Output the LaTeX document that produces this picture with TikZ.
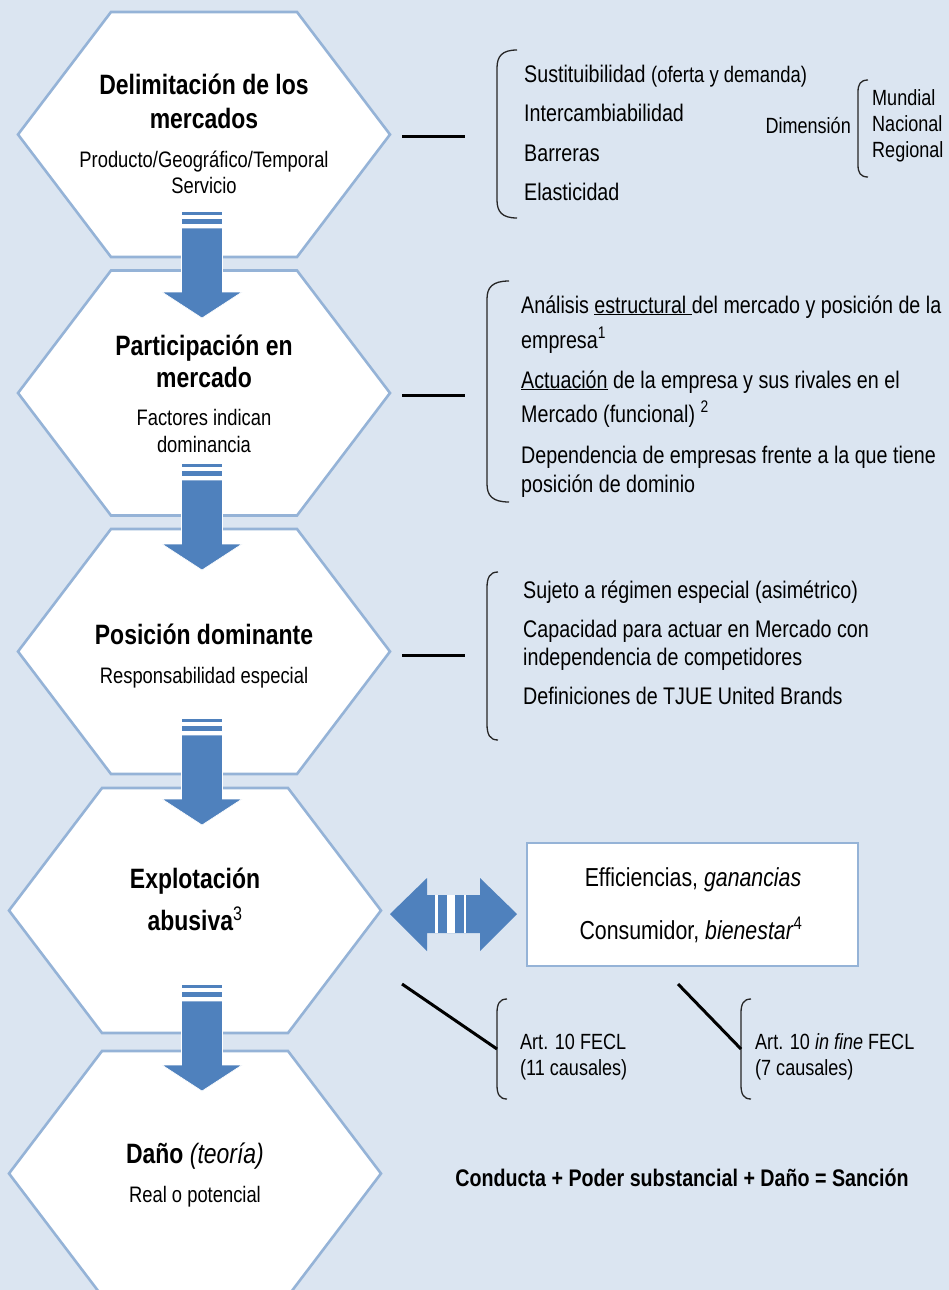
\documentclass[tikz,border=0pt]{standalone}
\usepackage{fontspec}
\setmainfont{Liberation Sans}[FakeStretch=0.82]
\definecolor{bgblue}{HTML}{DBE5F1}
\definecolor{hexline}{HTML}{95B3D7}
\definecolor{arrowblue}{HTML}{4F81BD}

% elongated hexagon: name, centre x, centre y
\newcommand\hexstage[3]{%
  \draw[hexa] (#2-186,#3) -- (#2-93,#3-122.5) -- (#2+93,#3-122.5)
    -- (#2+186,#3) -- (#2+93,#3+122.5) -- (#2-93,#3+122.5) -- cycle;
  \coordinate (#1) at (#2,#3);}

% striped block arrow pointing down: name, centre x, top y
\newcommand\flowstep[3]{%
  \fill[flow] (#2-20.5,#3) rectangle (#2+20.5,#3+4);
  \fill[flow] (#2-20.5,#3+7) rectangle (#2+20.5,#3+13.5);
  \draw[flow] (#2-20.5,#3+17) -- (#2+20.5,#3+17) -- (#2+20.5,#3+81)
    -- (#2+40,#3+81) -- (#2,#3+107) -- (#2-40,#3+81) -- (#2-20.5,#3+81) -- cycle;
  \coordinate (#1) at (#2,#3+107);}

% curly bracket: name, x, top, bottom, curl width, curl height
\newcommand\curlbracket[6]{%
  \draw[brk] (#2+#5,#3) .. controls (#2+0.25*#5,#3) and (#2,#3+0.35*#6) .. (#2,#3+#6)
    -- (#2,#4-#6) .. controls (#2,#4-0.35*#6) and (#2+0.25*#5,#4) .. (#2+#5,#4);
  \coordinate (#1) at (#2,{(#3+#4)/2});}

\tikzset{
  hexa/.style={draw=hexline, line width=2.6pt, fill=white, line join=miter},
  flow/.style={fill=arrowblue, draw=white, line width=0.6pt},
  link/.style={draw=black, line width=3pt},
  brk/.style={draw=black!85, line width=1.3pt},
  ttl/.style={inner sep=0, anchor=base, font=\fontsize{28}{32}\selectfont\bfseries},
  sub/.style={inner sep=0, anchor=base, font=\fontsize{22.4}{26}\selectfont},
  item/.style={inner sep=0, anchor=base west, font=\fontsize{24}{28}\selectfont},
  small/.style={inner sep=0, anchor=base west, font=\fontsize{22}{26}\selectfont},
  boxtext/.style={inner sep=0, anchor=base, font=\fontsize{26}{30}\selectfont},
  box/.style={draw=hexline, line width=1.2pt, fill=white, minimum width=331pt,
    minimum height=123pt, inner sep=0},
}

\begin{document}
\begin{tikzpicture}[x=1pt,y=-1pt]
\useasboundingbox (0,0) rectangle (949,1290);
\clip (0,0) rectangle (949,1290);
\fill[bgblue] (0,0) rectangle (949,1290);

% stages
\hexstage{h1}{204}{134.5}
\hexstage{h2}{204}{393}
\hexstage{h3}{204}{651.5}
\hexstage{h4}{195}{910.5}
\hexstage{h5}{195}{1173.5}

% arrows between the stages
\flowstep{a1}{202}{211}
\flowstep{a2}{202}{463}
\flowstep{a3}{202}{718}
\flowstep{a4}{202}{984}

% stage texts
\node[ttl] (t1a) at (204,95) {Delimitación de los};
\node[ttl] (t1b) at (204,128) {mercados};
\node[sub] (s1a) at (204,167) {Producto/Geográfico/Temporal};
\node[sub] (s1b) at (204,193) {Servicio};

\node[ttl] (t2a) at (204,355) {Participación en};
\node[ttl] (t2b) at (204,387) {mercado};
\node[sub] (s2a) at (204,425) {Factores indican};
\node[sub] (s2b) at (204,452) {dominancia};

\node[ttl] (t3a) at (204,644) {Posición dominante};
\node[sub] (s3a) at (204,683) {Responsabilidad especial};

\node[ttl] (t4a) at (195,888) {Explotación};
\node[ttl] (t4b) at (195,930) {abusiva\textsuperscript{\mdseries 3}};

\node[ttl] (t5a) at (195,1163) {Daño \mdseries\itshape(teoría)};
\node[sub] (s5a) at (195,1202) {Real o potencial};

% links from the stages to their brackets
\coordinate (l1a) at (402,136); \coordinate (l1b) at (465,136);
\coordinate (l2a) at (402,395); \coordinate (l2b) at (465,395);
\coordinate (l3a) at (402,655); \coordinate (l3b) at (465,655);
\draw[link] (l1a) -- (l1b);
\draw[link] (l2a) -- (l2b);
\draw[link] (l3a) -- (l3b);

% brackets
\curlbracket{b1}{497}{50}{218}{20}{18}
\curlbracket{b2}{487}{281}{502}{22}{18}
\curlbracket{b3}{487}{572}{740}{11}{16}
\curlbracket{bd}{858}{80}{177}{10}{12}
\curlbracket{b4}{497}{999}{1099}{10}{14}
\curlbracket{b5}{741}{999}{1099}{10}{14}

% market definition criteria
\node[item] (c1) at (524,82) {Sustituibilidad {\fontsize{22.5}{26}\selectfont(oferta y demanda)}};
\node[item] (c2) at (524,121) {Intercambiabilidad};
\node[item] (c3) at (524,161) {Barreras};
\node[item] (c4) at (524,200) {Elasticidad};
\node[inner sep=0, anchor=base east, font=\fontsize{22}{26}\selectfont] (dim) at (851,133) {Dimensión};
\node[small] (g1) at (872,105) {Mundial};
\node[small] (g2) at (872,131) {Nacional};
\node[small] (g3) at (872,157) {Regional};

% market share criteria
\node[item] (m1) at (521,313) {Análisis \underline{estructural\ }del mercado y posición de la};
\node[item] (m2) at (521,348) {empresa\textsuperscript{1}};
\node[item] (m3) at (521,388) {\underline{Actuación} de la empresa y sus rivales en el};
\node[item] (m4) at (521,422) {Mercado (funcional) \textsuperscript{2}};
\node[item] (m5) at (521,463) {Dependencia de empresas frente a la que tiene};
\node[item] (m6) at (521,492) {posición de dominio};

% dominant position criteria
\node[item] (p1) at (523,598) {Sujeto a régimen especial (asimétrico)};
\node[item] (p2) at (523,637) {Capacidad para actuar en Mercado con};
\node[item] (p3) at (523,665) {independencia de competidores};
\node[item] (p4) at (523,704) {Definiciones de TJUE United Brands};

% efficiencies box and the two-way arrow
\node[box] (gain) at (692.5,904.5) {};
\node[boxtext] (e1) at (693,886) {Efficiencias, \textit{ganancias}};
\node[boxtext] (e2) at (691,939) {Consumidor, \textit{bienestar}\textsuperscript{4}};

\coordinate (dl) at (390,914);
\coordinate (dr) at (517,914);
\fill[arrowblue] (dl) -- ++(37,-36) -- ++(0,17) -- ++(53,0) -- ++(0,-17)
  -- (dr) -- ++(-37,37) -- ++(0,-18) -- ++(-53,0) -- ++(0,18) -- cycle;
\fill[white] (435,895) rectangle (437.5,933);
\fill[white] (447,895) rectangle (455,933);
\fill[white] (463.5,895) rectangle (466,933);

% abuse categories
\coordinate (d1) at (402,984);
\coordinate (d2) at (678,984);
\draw[link] (d1) -- (b4);
\draw[link] (d2) -- (b5);
\node[small] (r1) at (520,1049) {Art. 10 FECL};
\node[small] (r2) at (520,1075) {(11 causales)};
\node[small] (r3) at (755,1049) {Art. 10 \textit{in fine} FECL};
\node[small] (r4) at (755,1075) {(7 causales)};

% summary formula
\node[inner sep=0, anchor=base, font=\fontsize{24}{28}\selectfont\bfseries] (sum) at (682,1186)
  {Conducta + Poder substancial + Daño = Sanción};
\end{tikzpicture}
\end{document}
